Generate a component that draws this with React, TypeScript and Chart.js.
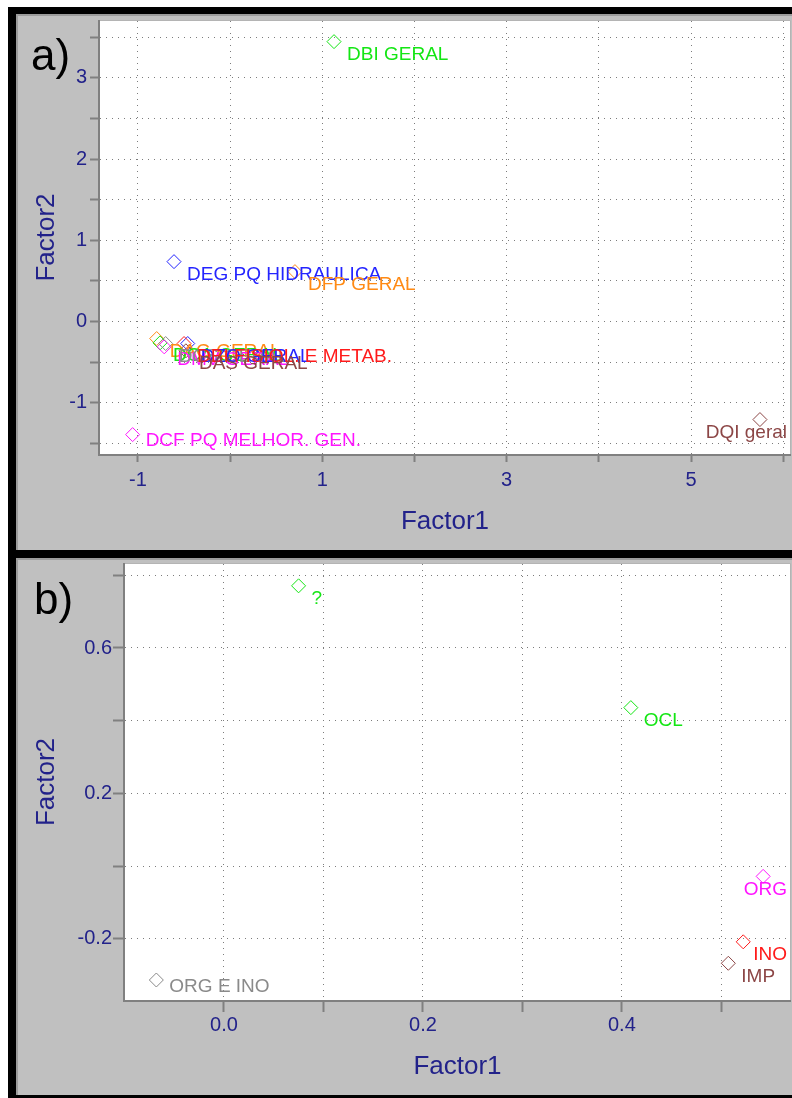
import React, { useEffect, useRef } from "react";
import { Chart, registerables } from "chart.js";

Chart.register(...registerables);

const GREEN = "#14e614";
const BLUE = "#2424ff";
const ORANGE = "#ff8a14";
const MAGENTA = "#ff14ff";
const RED = "#ff1a1a";
const BROWN = "#8c4646";
const GRAY = "#8a8a8a";
const NAVY = "#22228a";
const FONT = "'Liberation Sans', Arial, Helvetica, sans-serif";

// ---------- Panel a) data ----------
const namesA = [
  "DBI GERAL",
  "DEG PQ HIDRAULICA",
  "DFP GERAL",
  "DAG GERAL",
  "DCA GERAL",
  "DMV GERAL",
  "DCS GERAL",
  "DZO GERAL",
  "DBI FISIOL. E METAB.",
  "DAS GERAL",
  "DCF PQ MELHOR. GEN.",
  "DQI geral",
];
const factor1A = [1.127, -0.609, 0.703, -0.797, -0.761, -0.715, -0.7, -0.46, -0.5, -0.48, -1.058, 5.748];
const factor2A = [3.446, 0.738, 0.615, -0.209, -0.262, -0.311, -0.27, -0.27, -0.27, -0.36, -1.391, -1.206];
const colorsA = [GREEN, BLUE, ORANGE, ORANGE, GREEN, MAGENTA, GRAY, BLUE, RED, BROWN, MAGENTA, BROWN];
const xTicksA = [-1, 0, 1, 2, 3, 4, 5, 6];
const xTickTextA = ["-1", "", "1", "", "3", "", "5", ""];
const yTicksA = [-1.5, -1, -0.5, 0, 0.5, 1, 1.5, 2, 2.5, 3, 3.5];
const yTickTextA = ["", "-1", "", "0", "", "1", "", "2", "", "3", ""];

// ---------- Panel b) data ----------
const namesB = ["?", "OCL", "ORG", "INO", "IMP", "ORG E INO"];
const factor1B = [0.075, 0.409, 0.542, 0.522, 0.507, -0.068];
const factor2B = [0.771, 0.436, -0.028, -0.208, -0.267, -0.313];
const colorsB = [GREEN, GREEN, MAGENTA, RED, BROWN, GRAY];
const xTicksB = [0, 0.1, 0.2, 0.3, 0.4, 0.5];
const xTickTextB = ["0.0", "", "0.2", "", "0.4", ""];
const yTicksB = [-0.2, 0, 0.2, 0.4, 0.6, 0.8];
const yTickTextB = ["-0.2", "", "0.2", "", "0.6", ""];

type Spec = {
  letter: string;
  letterX: number;
  letterY: number;
  names: string[];
  xs: number[];
  ys: number[];
  colors: string[];
  xMin: number;
  xMax: number;
  yMin: number;
  yMax: number;
  xTicks: number[];
  xTickText: string[];
  yTicks: number[];
  yTickText: string[];
  yAxisWidth: number;
  xAxisHeight: number;
  padTop: number;
  padRight: number;
  xTickLen: number;
  xTickPad: number;
  yTickLen: number;
  yTickPad: number;
};

const specA: Spec = {
  letter: "a)",
  letterX: 15,
  letterY: 56,
  names: namesA,
  xs: factor1A,
  ys: factor2A,
  colors: colorsA,
  xMin: -1.412,
  xMax: 6.074,
  yMin: -1.63,
  yMax: 3.7,
  xTicks: xTicksA,
  xTickText: xTickTextA,
  yTicks: yTicksA,
  yTickText: yTickTextA,
  yAxisWidth: 84,
  xAxisHeight: 96,
  padTop: 7,
  padRight: 2,
  xTickLen: 8,
  xTickPad: 6.5,
  yTickLen: 10,
  yTickPad: 3,
};

const specB: Spec = {
  letter: "b)",
  letterX: 18,
  letterY: 56,
  names: namesB,
  xs: factor1B,
  ys: factor2B,
  colors: colorsB,
  xMin: -0.0995,
  xMax: 0.569,
  yMin: -0.368,
  yMax: 0.831,
  xTicks: xTicksB,
  xTickText: xTickTextB,
  yTicks: yTicksB,
  yTickText: yTickTextB,
  yAxisWidth: 109,
  xAxisHeight: 95,
  padTop: 6,
  padRight: 2,
  xTickLen: 12,
  xTickPad: 1.5,
  yTickLen: 12,
  yTickPad: 1,
};

function buildConfig(s: Spec): any {
  const decor = {
    id: "panelDecor",
    beforeDraw(chart: any) {
      const { ctx, chartArea: a } = chart;
      ctx.save();
      ctx.fillStyle = "#ffffff";
      ctx.fillRect(a.left, a.top, a.right - a.left, a.bottom - a.top);
      ctx.font = `44px ${FONT}`;
      ctx.fillStyle = "#000000";
      ctx.textBaseline = "alphabetic";
      ctx.textAlign = "left";
      ctx.fillText(s.letter, s.letterX, s.letterY);
      ctx.restore();
    },
    beforeDatasetsDraw(chart: any) {
      const { ctx, chartArea: a } = chart;
      ctx.save();
      ctx.lineWidth = 1;
      ctx.strokeStyle = "#b4b4b4";
      ctx.beginPath();
      ctx.moveTo(a.left, a.top - 0.5);
      ctx.lineTo(a.right + 0.5, a.top - 0.5);
      ctx.lineTo(a.right + 0.5, a.bottom);
      ctx.stroke();
      ctx.lineWidth = 2;
      ctx.strokeStyle = "#808080";
      ctx.beginPath();
      ctx.moveTo(a.left - 1, a.top - 1);
      ctx.lineTo(a.left - 1, a.bottom + 1);
      ctx.lineTo(a.right + 1, a.bottom + 1);
      ctx.stroke();
      ctx.restore();
    },
    afterDatasetsDraw(chart: any) {
      const { ctx, chartArea: a } = chart;
      const meta = chart.getDatasetMeta(0);
      ctx.save();
      ctx.font = `19px ${FONT}`;
      ctx.textBaseline = "alphabetic";
      ctx.textAlign = "left";
      meta.data.forEach((pt: any, i: number) => {
        const text = s.names[i];
        const w = ctx.measureText(text).width;
        let tx = pt.x + 13;
        if (tx + w > a.right - 3) tx = a.right - 3 - w;
        const ty = Math.min(pt.y + 18.5, a.bottom - 8);
        ctx.fillStyle = s.colors[i];
        ctx.fillText(text, tx, ty);
      });
      ctx.restore();
    },
  };

  return {
    type: "scatter",
    data: {
      datasets: [
        {
          data: s.xs.map((x, i) => ({ x, y: s.ys[i] })),
          pointStyle: "rectRot",
          pointRadius: 7,
          pointHoverRadius: 7,
          pointBorderWidth: 1,
          pointBorderColor: s.colors,
          pointBackgroundColor: "rgba(0,0,0,0)",
          showLine: false,
        },
      ],
    },
    options: {
      animation: false,
      responsive: false,
      devicePixelRatio: 1,
      events: [],
      layout: {
        autoPadding: false,
        padding: { top: s.padTop, right: s.padRight, bottom: 0, left: 0 },
      },
      plugins: {
        legend: { display: false },
        tooltip: { enabled: false },
      },
      scales: {
        x: {
          type: "linear",
          min: s.xMin,
          max: s.xMax,
          afterBuildTicks: (sc: any) => {
            sc.ticks = s.xTicks.map((v) => ({ value: v }));
          },
          afterFit: (sc: any) => {
            sc.height = s.xAxisHeight;
            sc.paddingLeft = 0;
            sc.paddingRight = 0;
            sc.paddingTop = 0;
            sc.paddingBottom = 0;
          },
          grid: {
            color: "#7c7c7c",
            lineWidth: 1,
            drawTicks: true,
            tickLength: s.xTickLen,
            tickColor: "#808080",
            tickWidth: 2,
            tickBorderDash: [],
          },
          border: { display: false, dash: [1, 5] },
          ticks: {
            color: NAVY,
            font: { family: FONT, size: 20 },
            padding: s.xTickPad,
            autoSkip: false,
            maxRotation: 0,
            minRotation: 0,
            callback: (_v: any, i: number) => s.xTickText[i],
          },
          title: {
            display: true,
            text: "Factor1",
            color: NAVY,
            font: { family: FONT, size: 26 },
            padding: { top: 0, bottom: 12.4 },
          },
        },
        y: {
          type: "linear",
          min: s.yMin,
          max: s.yMax,
          afterBuildTicks: (sc: any) => {
            sc.ticks = s.yTicks.map((v) => ({ value: v }));
          },
          afterFit: (sc: any) => {
            sc.width = s.yAxisWidth;
            sc.paddingLeft = 0;
            sc.paddingRight = 0;
            sc.paddingTop = 0;
            sc.paddingBottom = 0;
          },
          grid: {
            color: "#7c7c7c",
            lineWidth: 1,
            drawTicks: true,
            tickLength: s.yTickLen,
            tickColor: "#808080",
            tickWidth: 2,
            tickBorderDash: [],
          },
          border: { display: false, dash: [1, 5] },
          ticks: {
            color: NAVY,
            font: { family: FONT, size: 20 },
            padding: s.yTickPad,
            autoSkip: false,
            callback: (_v: any, i: number) => s.yTickText[i],
          },
          title: {
            display: true,
            text: "Factor2",
            color: NAVY,
            font: { family: FONT, size: 26 },
            padding: { top: 15, bottom: 0 },
          },
        },
      },
    },
    plugins: [decor],
  };
}

function Panel(props: { spec: Spec; left: number; top: number; width: number; height: number }) {
  const { spec, left, top, width, height } = props;
  const ref = useRef<HTMLCanvasElement | null>(null);
  useEffect(() => {
    if (!ref.current) return;
    const chart = new Chart(ref.current, buildConfig(spec));
    return () => chart.destroy();
  }, [spec]);
  return (
    <div
      style={{
        position: "absolute",
        left,
        top,
        width,
        height,
        background: "#c0c0c0",
        boxShadow: "inset 2px 2px 0 #9c9c9c",
      }}
    >
      <canvas ref={ref} width={width} height={height} style={{ display: "block", width, height }} />
    </div>
  );
}

export default function App() {
  return (
    <div
      style={{
        position: "absolute",
        left: 0,
        top: 0,
        width: 792,
        height: 1098,
        background: "#ffffff",
        overflow: "hidden",
      }}
    >
      <div style={{ position: "absolute", left: 8, top: 7, width: 800, height: 1095, background: "#000" }} />
      <Panel spec={specA} left={16} top={14} width={776} height={536} />
      <Panel spec={specB} left={16} top={558} width={776} height={537} />
    </div>
  );
}
